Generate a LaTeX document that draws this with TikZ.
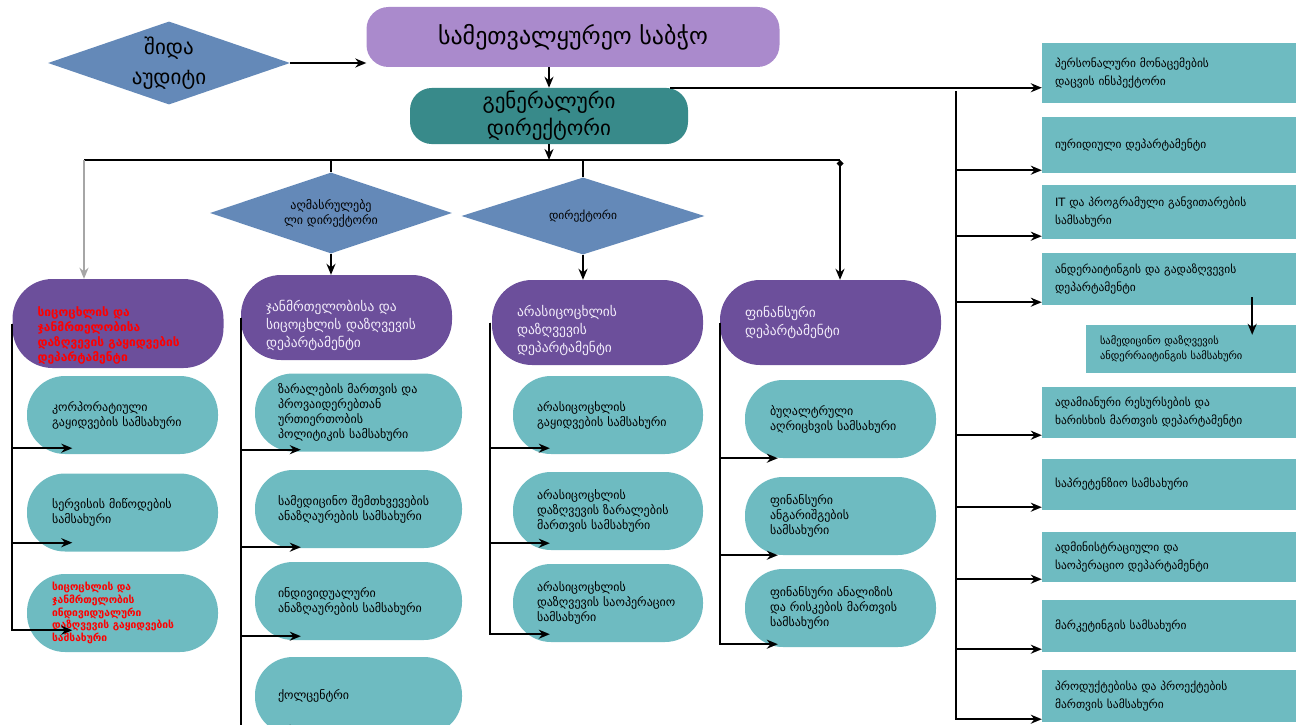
\documentclass[tikz,border=0pt]{standalone}
\usepackage{fontspec}
\setmainfont{DejaVu Sans}
\usetikzlibrary{arrows.meta,calc,shapes.geometric}
\definecolor{boardpurple}{RGB}{170,138,204}
\definecolor{dirteal}{RGB}{56,138,138}
\definecolor{diablue}{RGB}{100,137,184}
\definecolor{deppurple}{RGB}{108,79,155}
\definecolor{unitteal}{RGB}{110,187,193}
\definecolor{deptext}{RGB}{242,236,250}

\begin{document}
\begin{tikzpicture}[x=1pt,y=-1pt,
  dia/.style={diamond,fill=diablue,inner sep=0pt,shape aspect=2.9,align=center},
  dep/.style={fill=deppurple,rounded corners=40pt,minimum width=211pt,minimum height=85pt,text width=161pt,inner xsep=25pt,align=left,text=deptext,font=\fontsize{13.5}{18}\selectfont},
  lowered/.style={execute at begin node={\rule{0pt}{#1}}},
  unit/.style={fill=unitteal,rounded corners=38pt,minimum width=191pt,minimum height=78pt,text width=141pt,inner xsep=25pt,align=left,font=\fontsize{12}{15}\selectfont},
  unitw/.style={unit,minimum width=207pt,text width=161pt,inner xsep=23pt},
  rbox/.style={fill=unitteal,minimum width=254pt,minimum height=52pt,text width=228pt,inner xsep=13pt,align=left,font=\fontsize{11.5}{18}\selectfont},
  redtxt/.style={text=red,font=\bfseries\fontsize{12}{15}\selectfont},
  line/.style={line width=2.2pt},
  arr/.style={line width=2.2pt,-{Stealth[length=11pt,width=9pt]}}
]
\useasboundingbox (0,0) rectangle (1306,725);

% top level
\node[fill=boardpurple,rounded corners=22pt,minimum width=413pt,minimum height=60pt,font=\fontsize{24}{28}\selectfont] (board) at (573,37) {სამეთვალყურეო საბჭო};
\node[dia,minimum width=242pt,minimum height=83pt,font=\fontsize{21}{30}\selectfont] (audit) at (169,63) {შიდა\\აუდიტი};
\node[fill=dirteal,rounded corners=22pt,minimum width=278pt,minimum height=52pt,align=center,font=\fontsize{21}{27}\selectfont] (gendir) at (549,116) {გენერალური\\დირექტორი};
\node[dia,minimum width=242pt,minimum height=81pt,font=\fontsize{12}{15}\selectfont] (execdir) at (331,213) {აღმასრულებე\\ლი დირექტორი};
\node[dia,minimum width=243pt,minimum height=77pt,font=\fontsize{11.5}{15}\selectfont] (dir) at (583,216) {დირექტორი};

% departments
\node[dep,minimum width=210pt,minimum height=89pt,redtxt,lowered=33pt] (dep1) at (118,323.5) {სიცოცხლის და\\ჯანმრთელობისა\\დაზღვევის გაყიდვების\\დეპარტამენტი};
\node[dep,lowered=27pt] (dep2) at (346.5,317.5) {ჯანმრთელობისა და\\სიცოცხლის დაზღვევის\\დეპარტამენტი};
\node[dep,lowered=28pt] (dep3) at (597.5,322.5) {არასიცოცხლის\\დაზღვევის\\დეპარტამენტი};
\node[dep,minimum width=221pt,text width=171pt] (dep4) at (830.5,322.5) {ფინანსური\\დეპარტამენტი};

% column 1
\node[unit] (u11) at (122.5,415) {კორპორატიული\\გაყიდვების სამსახური};
\node[unit] (u12) at (122.5,512.5) {სერვისის მიწოდების\\სამსახური};
\node[unit,redtxt,font=\bfseries\fontsize{10.3}{12.7}\selectfont] (u13) at (122.5,613) {სიცოცხლის და\\ჯანმრთელობის\\ინდივიდუალური\\დაზღვევის გაყიდვების\\სამსახური};
% column 2
\node[unitw] (u21) at (358.5,412.5) {ზარალების მართვის და\\პროვაიდერებთან\\ურთიერთობის\\პოლიტიკის  სამსახური};
\node[unitw] (u22) at (358.5,509) {სამედიცინო შემთხვევების\\ანაზღაურების სამსახური};
\node[unitw] (u23) at (358.5,601) {ინდივიდუალური\\ანაზღაურების სამსახური};
\node[unitw] (u24) at (358.5,696) {ქოლცენტრი};
% column 3
\node[unit,minimum width=190pt,text width=142pt,inner xsep=24pt] (u31) at (608,415) {არასიცოცხლის\\გაყიდვების სამსახური};
\node[unit,minimum width=190pt,text width=142pt,inner xsep=24pt] (u32) at (608,511) {არასიცოცხლის\\დაზღვევის ზარალების\\მართვის სამსახური};
\node[unit,minimum width=190pt,text width=142pt,inner xsep=24pt] (u33) at (608,603) {არასიცოცხლის\\დაზღვევის საოპერაციო\\სამსახური};
% column 4
\node[unit] (u41) at (840.5,419) {ბუღალტრული\\აღრიცხვის სამსახური};
\node[unit] (u42) at (840.5,516) {ფინანსური\\ანგარიშგების\\სამსახური};
\node[unit] (u43) at (840.5,608) {ფინანსური ანალიზის\\და რისკების მართვის\\სამსახური};

% right column
\node[rbox,minimum height=60pt] (r1) at (1169,73) {პერსონალური მონაცემების\\დაცვის ინსპექტორი};
\node[rbox,minimum height=56pt] (r2) at (1169,145) {იურიდიული დეპარტამენტი};
\node[rbox,minimum height=54pt] (r3) at (1169,212) {IT და პროგრამული განვითარების\\სამსახური};
\node[rbox] (r4) at (1169,279) {ანდერაიტინგის და გადაზღვევის\\დეპარტამენტი};
\node[rbox,minimum width=210pt,text width=182pt,minimum height=48pt,font=\fontsize{10.5}{15}\selectfont] (r5) at (1191,349) {სამედიცინო დაზღვევის\\ანდერრაიტინგის სამსახური};
\node[rbox,minimum height=51pt] (r6) at (1169,412.5) {ადამიანური რესურსების და\\ხარისხის მართვის დეპარტამენტი};
\node[rbox,minimum height=51pt] (r7) at (1169,484.5) {საპრეტენზიო სამსახური};
\node[rbox,minimum height=50pt] (r8) at (1169,557) {ადმინისტრაციული და\\საოპერაციო დეპარტამენტი};
\node[rbox] (r9) at (1169,626) {მარკეტინგის სამსახური};
\node[rbox] (r10) at (1169,696) {პროდუქტებისა და პროექტების\\მართვის სამსახური};

\coordinate (busL) at (84,160);
\coordinate (busR) at (840,160);
\coordinate (rtrunk) at (956,91);

% connectors
\draw[arr] (audit.east) -- (audit.east -| board.west);
\draw[arr] (gendir.north |- board.south) -- (gendir.north);
\draw[arr] (gendir.south) -- (gendir.south |- busL);
\draw[line] (busL) -- (busR);
\draw[arr,draw=gray!70] (busL) -- (busL |- dep1.north);
\draw[line] (execdir.north |- busL) -- (execdir.north);
\draw[line] (dir.north |- busL) -- (dir.north);
\draw[arr] (execdir.south) -- (execdir.south |- dep2.north);
\draw[arr] (dir.south) -- (dir.south |- dep3.north);
\draw[line,{Diamond[length=7pt,width=7pt]}-{Stealth[length=11pt,width=9pt]}] (busR) -- (busR |- dep4.north);

\foreach \u/\dy in {u11/6,u12/9,u13/22}
  \draw[arr] (dep1.west) |- ($(\u.south -| dep1.west)+(60,-\dy)$);
\foreach \u/\dy in {u21/2,u22/1,u23/4,u24/6}
  \draw[arr] (dep2.west) |- ($(\u.south -| dep2.west)+(60,-\dy)$);
\foreach \u/\dy in {u31/6,u32/7,u33/8}
  \draw[arr] ([xshift=-2pt]dep3.west) |- ($(\u.south -| dep3.west)+(58,-\dy)$);
\foreach \u/\dy in {u41/0,u42/0,u43/3}
  \draw[arr] (dep4.west) |- ($(\u.south -| dep4.west)+(58,-\dy)$);

\draw[arr] ([xshift=-18pt]gendir.north east) -- (gendir.north east -| r1.west);
\foreach \r in {r2,r3,r4,r6,r7,r8,r9,r10}
  \draw[arr] (rtrunk) |- ($(\r.south west)+(0,-3)$);
\draw[arr] ($(r4.south east)+(-44,-8)$) -- ($(r5.north east)+(-44,10)$);
\end{tikzpicture}
\end{document}
